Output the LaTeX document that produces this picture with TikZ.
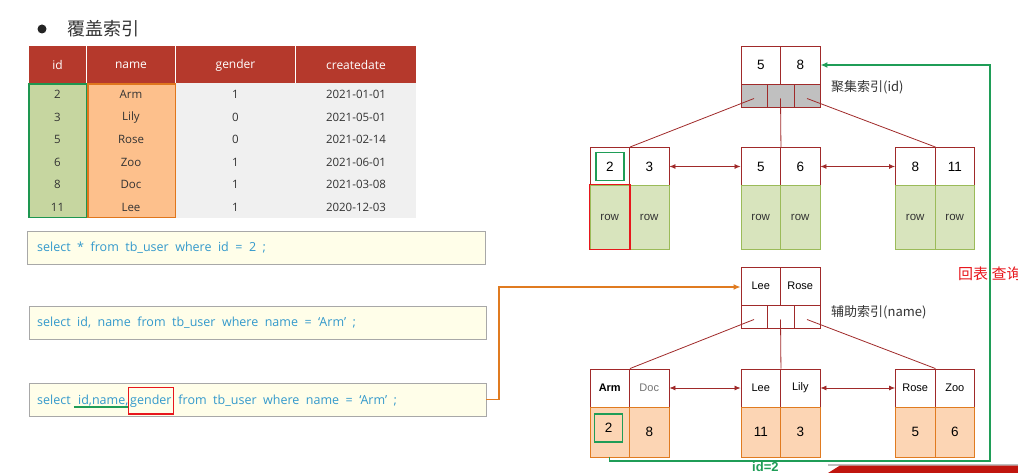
\documentclass[tikz,border=0pt]{standalone}
\usepackage{fontspec}
\setmainfont{Liberation Sans}
\newfontfamily\cjk{Noto Sans CJK SC}
\newfontfamily\thin{Open Sans}
\usetikzlibrary{arrows.meta,calc}

\definecolor{headred}{HTML}{B5392C}
\definecolor{treered}{HTML}{A02A2A}
\definecolor{idgreen}{HTML}{C6D6A0}
\definecolor{idline}{HTML}{1E9650}
\definecolor{namepeach}{HTML}{FDC08C}
\definecolor{nameline}{HTML}{E0761C}
\definecolor{tablegray}{HTML}{F0F0F0}
\definecolor{rowgreen}{HTML}{D8E4BD}
\definecolor{rowline}{HTML}{9BBB59}
\definecolor{peach}{HTML}{FCD5B4}
\definecolor{peachline}{HTML}{E07B20}
\definecolor{ptrgray}{HTML}{C0C0C0}
\definecolor{sqlblue}{HTML}{3399CC}
\definecolor{sqlbg}{HTML}{FFFEE9}
\definecolor{sqlline}{HTML}{A8A8A8}
\definecolor{pathgreen}{HTML}{1F9D57}
\definecolor{textgray}{HTML}{333333}
\definecolor{bannerred}{HTML}{C0150E}
\definecolor{hlred}{HTML}{E8161C}

\newcommand\sqlfont{\thin\fontsize{12.5}{13}\selectfont\spaceskip=6.5pt plus 1pt\relax}

\begin{document}
\begin{tikzpicture}[x=1pt,y=-1pt,
  thead/.style={fill=headred, text=white, minimum height=37pt, inner sep=0pt,
    font=\thin\fontsize{12}{13}\selectfont},
  tcell/.style={inner sep=0pt, text=textgray, font=\thin\fontsize{11.5}{12}\selectfont},
  keycell/.style={draw=treered, fill=white, line width=0.9pt, minimum width=39.5pt,
    minimum height=38pt, inner sep=0pt, font=\fontsize{13.5}{14}\selectfont},
  skeycell/.style={keycell, font=\fontsize{11}{11}\selectfont},
  ptrcell/.style={draw=treered, line width=0.9pt, minimum height=23pt, inner sep=0pt},
  rowcell/.style={draw=rowline, fill=rowgreen, line width=0.9pt, minimum width=39.5pt,
    minimum height=64pt, inner sep=0pt, text=textgray, font=\fontsize{11.5}{12}\selectfont},
  valcell/.style={draw=peachline, fill=peach, line width=0.9pt, minimum width=39.5pt,
    minimum height=50pt, inner sep=0pt, font=\fontsize{13.5}{14}\selectfont},
  treeline/.style={draw=treered, line width=0.8pt},
  sibling/.style={treeline, {Latex[length=6pt,width=5pt]}-{Latex[length=6pt,width=5pt]}},
  hlgreen/.style={draw=pathgreen, line width=1.6pt, minimum width=28pt, minimum height=28pt, inner sep=0pt},
  sqlbox/.style={draw=sqlline, fill=sqlbg, line width=0.8pt, minimum height=33pt, inner sep=0pt},
  sql/.style={inner sep=0pt, text=sqlblue, font=\sqlfont},
  idxlabel/.style={anchor=west, inner sep=0pt, text=textgray, font=\cjk\fontsize{13}{14}\selectfont}
]
\useasboundingbox (0,0) rectangle (1018,473);
\path[clip] (0,0) rectangle (1018,473);
\fill[white] (0,0) rectangle (1018,473);

% ---- heading
\fill[textgray!70!black] (42,29) circle (4.5pt);
\node[anchor=west, inner sep=0pt, text=textgray, font=\cjk\fontsize{18}{19}\selectfont] (title) at (67,29) {覆盖索引};

% ---- table
\node[thead, minimum width=57pt] (hid) at (57.5,65) {id};
\node[thead, minimum width=88pt] (hname) at (131,65) {name};
\node[thead, minimum width=119pt] (hgender) at (235.5,65) {gender};
\node[thead, minimum width=120pt] (hdate) at (356,65) {createdate};
\fill[tablegray] (176,83.5) rectangle (416,218);
\node[draw=idline, fill=idgreen, line width=1.5pt, minimum width=57.5pt, minimum height=133.5pt, inner sep=0pt] (idcol) at (57.5,150.75) {};
\node[draw=nameline, fill=namepeach, line width=1.5pt, minimum width=87.5pt, minimum height=133.5pt, inner sep=0pt] (namecol) at (131.5,150.75) {};
\foreach \i/\a/\b/\c/\d in {1/2/Arm/1/2021-01-01, 2/3/Lily/0/2021-05-01, 3/5/Rose/0/2021-02-14,
    4/6/Zoo/1/2021-06-01, 5/8/Doc/1/2021-03-08, 6/11/Lee/1/2020-12-03} {
  \node[tcell] (ra\i) at (57.5,{83.5+22.5*(\i-0.5)}) {\a};
  \node[tcell] (rb\i) at (131,{83.5+22.5*(\i-0.5)}) {\b};
  \node[tcell] (rc\i) at (235.5,{83.5+22.5*(\i-0.5)}) {\c};
  \node[tcell] (rd\i) at (356,{83.5+22.5*(\i-0.5)}) {\d};
}

% ---- SQL statements
\node[sqlbox, minimum width=458pt] (q1) at (256,247.5) {};
\node[sql, anchor=west] (s1) at (37,248) {select * from tb\_user where id = 2 ;};
\node[sqlbox, minimum width=457pt] (q2) at (257.5,322.5) {};
\node[sql, anchor=west] (s2) at (37,323) {select id, name from tb\_user where name = ‘Arm’ ;};
\node[sqlbox, minimum width=457pt] (q3) at (257.5,399.5) {};
\node[sql, anchor=base west] (s3a) at (37,404) {select\kern7pt};
\node[sql, anchor=base west] (s3b) at (s3a.base east) {id,name,};
\draw[draw=pathgreen, line width=1.2pt] ([yshift=-3pt,xshift=-4pt]s3b.base west) -- ([yshift=-3pt]s3b.base east);
\node[sql, anchor=base west, inner xsep=1.5pt, minimum height=26pt] (s3c) at (s3b.base east) {gender};
\draw[draw=hlred, line width=1.4pt] (s3c.south west) rectangle (s3c.north east);
\node[sql, anchor=base west] (s3d) at (s3c.base east) {\kern5pt from tb\_user where name = ‘Arm’ ;};

% ---- clustered index (id)
\node[keycell] (ck1) at (760.75,65) {5};
\node[keycell] (ck2) at (800.25,65) {8};
\node[ptrcell, fill=ptrgray, minimum width=26pt] (cp1) at (754,95.5) {};
\node[ptrcell, fill=ptrgray, minimum width=27pt] (cp2) at (780.5,95.5) {};
\node[ptrcell, fill=ptrgray, minimum width=26pt] (cp3) at (807,95.5) {};
\node[idxlabel] (clab) at (831,87) {聚集索引(id)};

\node[keycell] (c1k1) at (609.75,166.5) {};
\node[keycell] (c1k2) at (649.25,166.5) {3};
\node[rowcell] (c1r2) at (649.25,217) {row};
\node[rowcell] (c1r1) at (609.75,217) {row};
\node[hlgreen] (c1hl) at (c1k1.center) {\fontsize{13.5}{14}\selectfont 2};

\node[keycell] (c2k1) at (760.75,166.5) {5};
\node[keycell] (c2k2) at (800.25,166.5) {6};
\node[rowcell] (c2r1) at (760.75,217) {row};
\node[rowcell] (c2r2) at (800.25,217) {row};

\node[keycell] (c3k1) at (915.25,166.5) {8};
\node[keycell] (c3k2) at (954.75,166.5) {11};
\node[rowcell] (c3r1) at (915.25,217) {row};
\node[rowcell] (c3r2) at (954.75,217) {row};

\draw[hlred, line width=1.6pt] (c1r1.south west) rectangle (c1r1.north east);

\draw[treeline] ([yshift=-3pt]cp1.center) -- (c1k1.north east);
\draw[treeline] ([yshift=-3pt]cp2.center) -- (c2k1.north east);
\draw[treeline] ([yshift=-3pt]cp3.center) -- (c3k1.north east);
\draw[sibling] (c1k2.east) -- (c2k1.west);
\draw[sibling] (c2k2.east) -- (c3k1.west);

% ---- secondary index (name)
\node[skeycell] (sk1) at (760.75,286) {Lee};
\node[skeycell] (sk2) at (800.25,286) {Rose};
\node[ptrcell, fill=white, minimum width=26pt] (sp1) at (754,316.5) {};
\node[ptrcell, fill=white, minimum width=27pt] (sp2) at (780.5,316.5) {};
\node[ptrcell, fill=white, minimum width=26pt] (sp3) at (807,316.5) {};
\node[idxlabel] (slab) at (831,312) {辅助索引(name)};

\node[skeycell, font=\bfseries\fontsize{11}{11}\selectfont] (s1k1) at (609.75,388) {Arm};
\node[skeycell, text=black!55] (s1k2) at (649.25,388) {Doc};
\node[valcell] (s1v1) at (609.75,432) {};
\node[valcell] (s1v2) at (649.25,432) {8};
\node[hlgreen] (s1hl) at (608.5,428) {\fontsize{13.5}{14}\selectfont 2};

\node[skeycell] (s2k1) at (760.75,388) {Lee};
\node[skeycell] (s2k2) at (800.25,388) {Lily};
\node[valcell] (s2v1) at (760.75,432) {11};
\node[valcell] (s2v2) at (800.25,432) {3};

\node[skeycell] (s3k1) at (915.25,388) {Rose};
\node[skeycell] (s3k2) at (954.75,388) {Zoo};
\node[valcell] (s3v1) at (915.25,432) {5};
\node[valcell] (s3v2) at (954.75,432) {6};

\draw[treeline] ([yshift=-3pt]sp1.center) -- (s1k1.north east);
\draw[treeline] ([yshift=-3pt]sp2.center) -- (s2k1.north east);
\draw[treeline] ([yshift=-3pt]sp3.center) -- (s3k1.north east);
\draw[sibling] (s1k2.east) -- (s2k1.west);
\draw[sibling] (s2k2.east) -- (s3k1.west);

% ---- query path into the secondary index
\coordinate (obend) at (499,287);
\draw[draw=peachline, line width=1.4pt, -{Latex[length=7pt,width=6pt]}]
  (q3.east) -| (obend) -- (sk1.west |- obend);

% ---- lookup back into the clustered index
\coordinate (gturn) at (990,461);
\draw[draw=pathgreen, line width=1.4pt, -{Latex[length=7pt,width=6pt]}]
  (s1v1.south) |- (gturn) |- (ck2.east);
\node[anchor=west, inner sep=0pt, text=hlred, font=\cjk\fontsize{15}{16}\selectfont] (back) at (958,274) {回表 查询};
\node[anchor=north west, inner sep=0pt, text=pathgreen, font=\bfseries\fontsize{13}{13}\selectfont] (idtwo) at (752,462) {id=2};

% ---- banner at the lower edge
\fill[black!25] (828,464) -- (1018,464) -- (1018,466) -- (828,466) -- cycle;
\fill[bannerred] (828,473) -- (840,465.5) -- (1018,465.5) -- (1018,473) -- cycle;
\end{tikzpicture}
\end{document}
